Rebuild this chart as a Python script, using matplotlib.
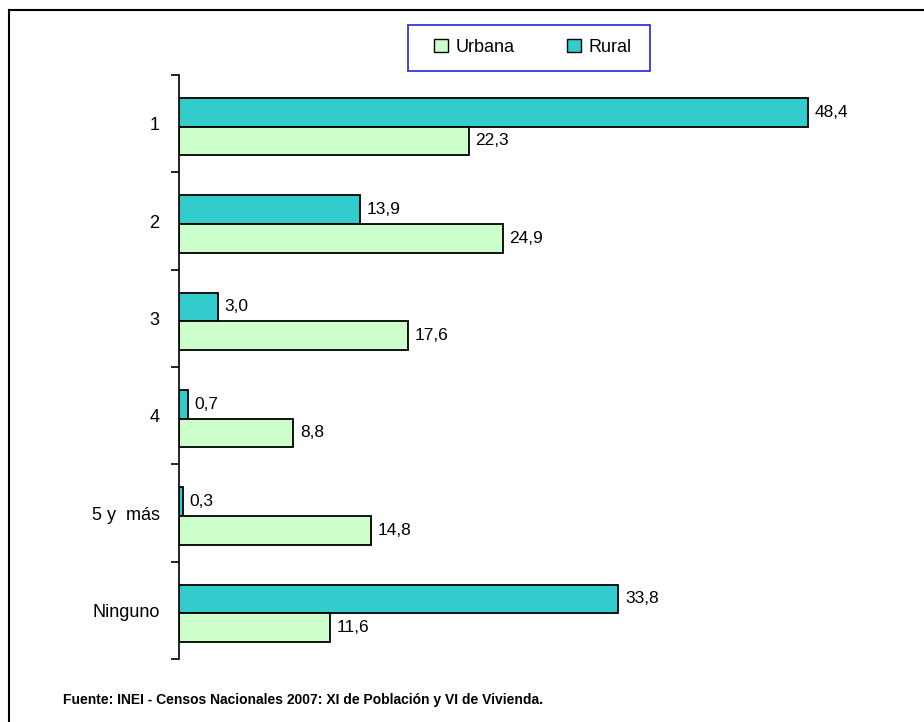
import numpy as np
import matplotlib.pyplot as plt
from matplotlib.lines import Line2D
from matplotlib.patches import Patch, Rectangle

plt.rcParams['font.family'] = ['Liberation Sans', 'DejaVu Sans']

categorias = ["1", "2", "3", "4", "5 y  más", "Ninguno"]
urbana = [22.3, 24.9, 17.6, 8.8, 14.8, 11.6]
rural = [48.4, 13.9, 3.0, 0.7, 0.3, 33.8]

color_urbana = "#CCFFCC"
color_rural = "#33CCCC"

fig = plt.figure(figsize=(9.24, 7.22), dpi=100)
ax = fig.add_axes([179 / 924, 63 / 722, (855 - 179) / 924, (659 - 75) / 722])

y = np.arange(len(categorias)) + 0.03
h = 0.295
ax.barh(y - h / 2, rural, height=h, color=color_rural, edgecolor="black", linewidth=1.3)
ax.barh(y + h / 2, urbana, height=h, color=color_urbana, edgecolor="black", linewidth=1.3)

fmt = lambda v: f"{v:.1f}".replace(".", ",")
for i in range(len(categorias)):
    ax.text(rural[i] + 0.5, y[i] - h / 2, fmt(rural[i]), va="center", ha="left", fontsize=12.5)
    ax.text(urbana[i] + 0.5, y[i] + h / 2, fmt(urbana[i]), va="center", ha="left", fontsize=12.5)

ax.set_xlim(0, 52)
ax.set_ylim(len(categorias) - 0.5, -0.5)
ax.set_yticks(np.arange(len(categorias)))
ax.set_yticklabels(categorias, fontsize=13)
ax.tick_params(axis="y", which="major", length=0, pad=14)
ax.set_yticks(np.arange(-0.5, len(categorias), 1), minor=True)
ax.tick_params(axis="y", which="minor", length=6, width=1.2, direction="out")
ax.set_xticks([])
for s in ["top", "right", "bottom"]:
    ax.spines[s].set_visible(False)
ax.spines["left"].set_linewidth(1.2)

# caja de la leyenda
fig.add_artist(Rectangle((408 / 924, 1 - 71 / 722), (650 - 408) / 924, 46 / 722,
                         facecolor="white", edgecolor="#2222DD", linewidth=1.2))
handles = [Patch(facecolor=color_urbana, edgecolor="black", label="Urbana"),
           Patch(facecolor=color_rural, edgecolor="black", label="Rural")]
fig.legend(handles=handles, loc="center", bbox_to_anchor=(533 / 924, 1 - 47 / 722),
           ncol=2, fontsize=13, frameon=False, handlelength=0.75,
           handleheight=0.75, handletextpad=0.45, columnspacing=2.9)

fig.text(63 / 924, 1 - 700 / 722, "Fuente: INEI - Censos Nacionales 2007: XI de Población y VI de Vivienda.",
         fontsize=10, fontweight="bold", va="center", ha="left")

# marco superior e izquierdo
fig.add_artist(Line2D([9 / 924, 9 / 924], [0, 1 - 10 / 722], color="black", linewidth=1.5))
fig.add_artist(Line2D([9 / 924, 1], [1 - 10 / 722, 1 - 10 / 722], color="black", linewidth=1.5))

fig.savefig("out.png", dpi=100, facecolor="white")
